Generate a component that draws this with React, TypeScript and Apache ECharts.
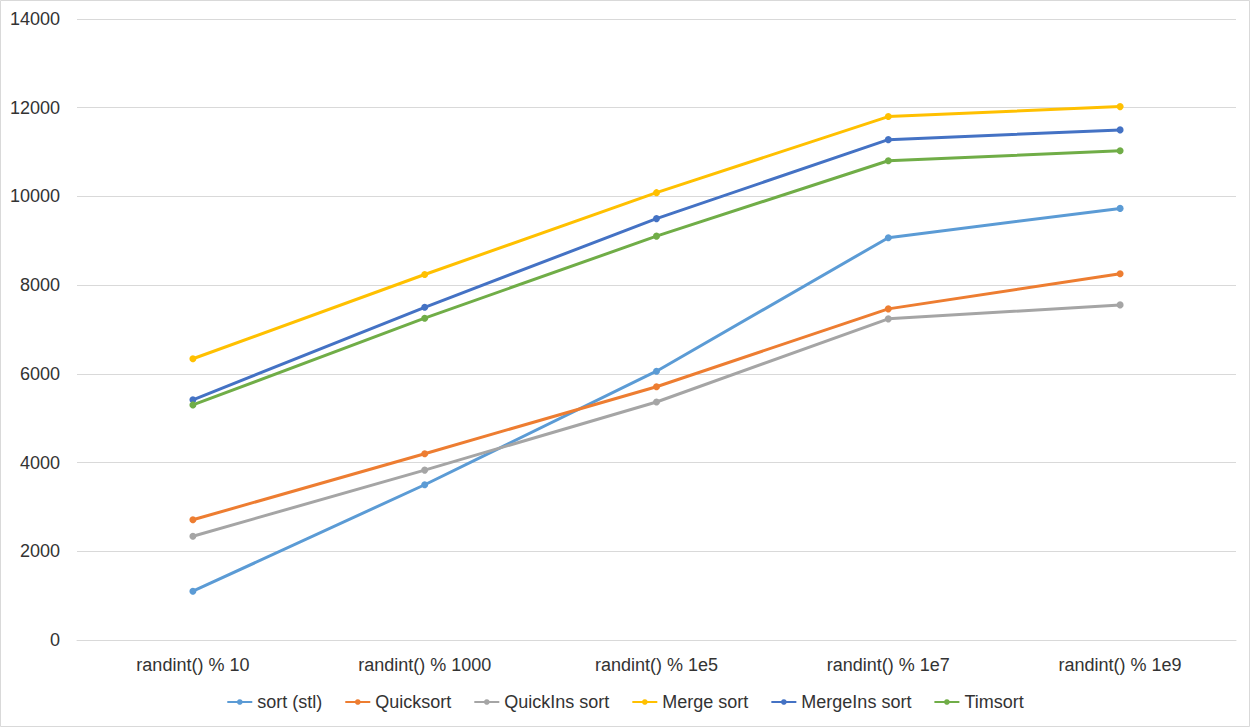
import React, { useEffect, useRef } from "react";
import * as echarts from "echarts";

const categories = ["randint() % 10", "randint() % 1000", "randint() % 1e5", "randint() % 1e7", "randint() % 1e9"];
const seriesNames = ["sort (stl)", "Quicksort", "QuickIns sort", "Merge sort", "MergeIns sort", "Timsort"];
const sortStl = [1100, 3500, 6060, 9070, 9730];
const quicksort = [2710, 4200, 5710, 7465, 8255];
const quickIns = [2340, 3830, 5365, 7240, 7555];
const mergeSort = [6340, 8240, 10085, 11800, 12025];
const mergeIns = [5415, 7500, 9500, 11280, 11500];
const timsort = [5300, 7255, 9105, 10805, 11030];
const colors = ["#5B9BD5", "#ED7D31", "#A5A5A5", "#FFC000", "#4472C4", "#70AD47"];
const yTicks = [0, 2000, 4000, 6000, 8000, 10000, 12000, 14000];

export default function App() {
  const ref = useRef<HTMLDivElement>(null);
  useEffect(() => {
    document.body.style.margin = "0";
    const chart = echarts.init(ref.current!, null, { renderer: "svg" });
    const data = [sortStl, quicksort, quickIns, mergeSort, mergeIns, timsort];
    const font = "'Liberation Sans', Arial, sans-serif";
    chart.setOption({
      animation: false,
      backgroundColor: "#ffffff",
      color: colors,
      textStyle: { fontFamily: font },
      graphic: [
        {
          type: "rect",
          shape: { x: 0.5, y: 0.5, width: 1249, height: 726 },
          style: { fill: "none", stroke: "#d9d9d9", lineWidth: 1 },
          silent: true,
        },
      ],
      grid: { left: 77, right: 14, top: 19, bottom: 87, containLabel: false },
      legend: {
        bottom: 11,
        left: "center",
        itemWidth: 25,
        itemHeight: 7,
        itemGap: 22,
        textStyle: { fontSize: 18, color: "#333", fontFamily: font },
        data: seriesNames,
      },
      xAxis: {
        type: "category",
        data: categories,
        boundaryGap: true,
        axisLine: { show: true, lineStyle: { color: "#d9d9d9" } },
        axisTick: { show: false },
        axisLabel: { fontSize: 18, color: "#333", margin: 16, fontFamily: font },
      },
      yAxis: {
        type: "value",
        min: yTicks[0],
        max: yTicks[yTicks.length - 1],
        interval: 2000,
        axisLine: { show: false },
        axisTick: { show: false },
        splitLine: { lineStyle: { color: "#d9d9d9", width: 1 } },
        axisLabel: {
          fontSize: 18,
          color: "#333",
          margin: 17,
          fontFamily: font,
          formatter: (v: number) => String(v),
        },
      },
      series: seriesNames.map((name, i) => ({
        name,
        type: "line",
        data: data[i],
        symbol: "circle",
        symbolSize: 7,
        lineStyle: { width: 3, color: colors[i] },
        itemStyle: { color: colors[i] },
      })),
    });
    return () => chart.dispose();
  }, []);
  return <div ref={ref} style={{ width: 1250, height: 727 }} />;
}
